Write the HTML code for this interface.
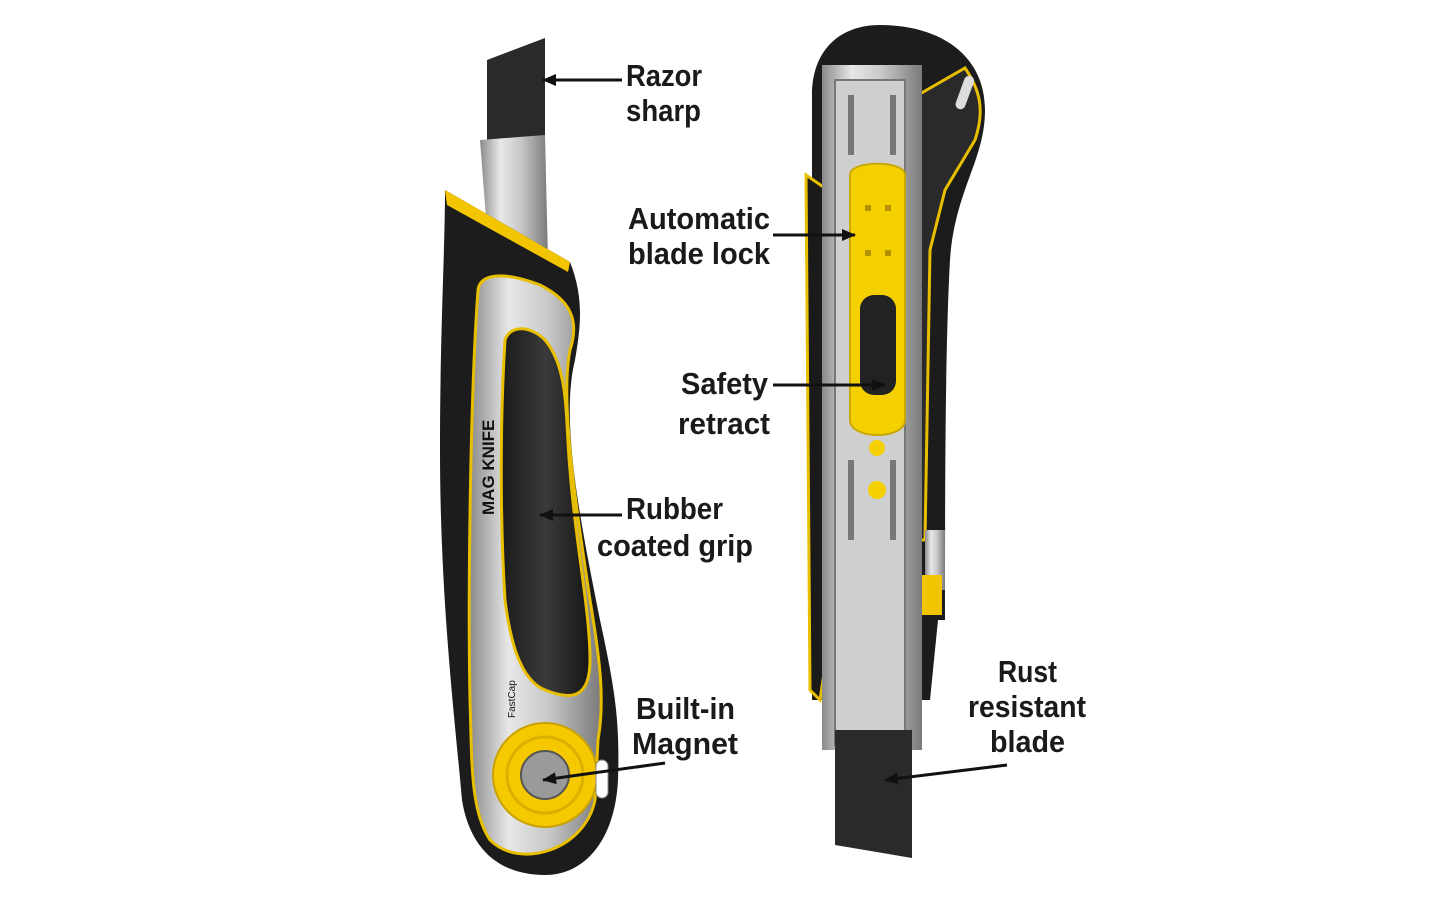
<!DOCTYPE html>
<html><head><meta charset="utf-8"><style>
html,body{margin:0;padding:0;background:#fff;}
svg{display:block}
text{font-family:"Liberation Sans",sans-serif;font-weight:bold;font-size:31px;fill:#1a1a1a}
</style></head><body>
<svg width="1445" height="903" viewBox="0 0 1445 903" xmlns="http://www.w3.org/2000/svg">
<defs>
<linearGradient id="silver" x1="0" x2="1" y1="0" y2="0">
<stop offset="0" stop-color="#8a8a8a"/><stop offset="0.3" stop-color="#e8e8e8"/><stop offset="0.6" stop-color="#c8c8c8"/><stop offset="1" stop-color="#7a7a7a"/>
</linearGradient>
<linearGradient id="blk" x1="0" x2="1"><stop offset="0" stop-color="#1a1a1a"/><stop offset="0.5" stop-color="#3a3a3a"/><stop offset="1" stop-color="#151515"/></linearGradient>
<marker id="ah" markerWidth="14" markerHeight="12" refX="13" refY="6" orient="auto" markerUnits="userSpaceOnUse"><path d="M0,0 L14,6 L0,12 Z" fill="#111"/></marker>
</defs>

<!-- LEFT KNIFE -->
<polygon points="487,60 545,38 545,140 487,140" fill="#2a2a2a"/>
<polygon points="480,140 545,135 548,260 490,270" fill="url(#silver)"/>
<path d="M445,190 L570,262 C585,300 580,330 575,360 C560,420 580,520 600,620 C615,690 620,720 618,780 C615,840 585,875 545,875 C500,875 470,850 462,800 C455,720 440,600 440,450 C440,330 445,250 445,190 Z" fill="#1c1c1c"/>
<path d="M445,190 L570,262 L568,272 L447,205 Z" fill="#f2c500"/>
<path d="M478,290 C480,275 500,270 540,285 C570,300 580,320 570,350 C560,400 575,500 590,600 C600,660 605,700 598,740 L595,800 C585,850 520,870 490,840 C470,810 472,760 470,700 C468,600 470,400 478,290 Z" fill="url(#silver)" stroke="#e8bf00" stroke-width="3"/>
<path d="M505,340 C510,325 530,325 545,340 C570,370 565,420 570,470 C575,540 590,610 590,660 C590,700 570,700 545,690 C520,680 510,640 505,600 C500,520 500,420 505,340 Z" fill="url(#blk)" stroke="#e8bf00" stroke-width="3"/>
<text x="0" y="0" transform="translate(494,515) rotate(-90)" style="font-size:17px;fill:#111">MAG KNIFE</text>
<text x="0" y="0" transform="translate(515,718) rotate(-90)" style="font-size:10px;fill:#111;font-weight:normal">FastCap</text>
<circle cx="545" cy="775" r="52" fill="#f5c800" stroke="#c9a200" stroke-width="2"/>
<circle cx="545" cy="775" r="38" fill="none" stroke="#d9b000" stroke-width="3"/>
<circle cx="545" cy="775" r="24" fill="#9a9a9a" stroke="#555" stroke-width="2"/>
<rect x="596" y="760" width="12" height="38" rx="6" fill="#fff" stroke="#888"/>

<!-- RIGHT KNIFE -->
<path d="M812,95 C812,50 840,25 880,25 C940,25 985,55 985,110 C985,160 955,190 950,260 C945,350 945,500 945,620 L938,620 L930,700 L812,700 Z" fill="#1c1c1c"/>
<path d="M918,95 L965,68 C980,90 985,110 975,140 L945,190 L930,250 L925,540 L918,540 Z" fill="#2a2a2a" stroke="#e8bf00" stroke-width="3"/>
<rect x="960" y="75" width="10" height="35" rx="5" fill="#ddd" transform="rotate(20 965 92)"/>
<path d="M806,175 L835,195 L835,600 L820,700 L810,690 Z" fill="#1a1a1a" stroke="#e8bf00" stroke-width="3"/>
<rect x="925" y="530" width="20" height="60" fill="url(#silver)"/>
<rect x="922" y="575" width="20" height="40" fill="#f2c500"/>
<rect x="822" y="65" width="100" height="685" fill="url(#silver)"/>
<path d="M835,80 L905,80 L905,745 L835,745 Z" fill="#cfcfcf" stroke="#777" stroke-width="2"/>
<g fill="#777">
<rect x="848" y="95" width="6" height="60"/><rect x="890" y="95" width="6" height="60"/>
<rect x="848" y="460" width="6" height="80"/><rect x="890" y="460" width="6" height="80"/>
</g>
<polygon points="835,730 912,730 912,858 835,845" fill="#2a2a2a"/>
<path d="M850,175 C850,160 905,160 905,175 L905,420 C905,440 850,440 850,420 Z" fill="#f5d000" stroke="#c9a800" stroke-width="2"/>
<rect x="860" y="295" width="36" height="100" rx="14" fill="#222"/>
<g fill="#b39400"><rect x="865" y="205" width="6" height="6"/><rect x="885" y="205" width="6" height="6"/><rect x="865" y="250" width="6" height="6"/><rect x="885" y="250" width="6" height="6"/></g>
<circle cx="877" cy="448" r="8" fill="#f5d000"/>
<circle cx="877" cy="490" r="9" fill="#f5d000"/>

<!-- LABELS -->
<text x="626" y="86" textLength="76" lengthAdjust="spacingAndGlyphs">Razor</text>
<text x="626" y="121" textLength="75" lengthAdjust="spacingAndGlyphs">sharp</text>
<line x1="622" y1="80" x2="543" y2="80" stroke="#111" stroke-width="3" marker-end="url(#ah)"/>

<text x="628" y="229" textLength="142" lengthAdjust="spacingAndGlyphs">Automatic</text>
<text x="628" y="264" textLength="142" lengthAdjust="spacingAndGlyphs">blade lock</text>
<line x1="773" y1="235" x2="855" y2="235" stroke="#111" stroke-width="3" marker-end="url(#ah)"/>

<text x="681" y="394" textLength="87" lengthAdjust="spacingAndGlyphs">Safety</text>
<text x="678" y="434" textLength="92" lengthAdjust="spacingAndGlyphs">retract</text>
<line x1="773" y1="385" x2="885" y2="385" stroke="#111" stroke-width="3" marker-end="url(#ah)"/>

<text x="626" y="519" textLength="97" lengthAdjust="spacingAndGlyphs">Rubber</text>
<text x="597" y="556" textLength="156" lengthAdjust="spacingAndGlyphs">coated grip</text>
<line x1="622" y1="515" x2="540" y2="515" stroke="#111" stroke-width="3" marker-end="url(#ah)"/>

<text x="636" y="719" textLength="99" lengthAdjust="spacingAndGlyphs">Built-in</text>
<text x="632" y="754" textLength="106" lengthAdjust="spacingAndGlyphs">Magnet</text>
<line x1="665" y1="763" x2="543" y2="780" stroke="#111" stroke-width="3" marker-end="url(#ah)"/>

<text x="998" y="682" textLength="59" lengthAdjust="spacingAndGlyphs">Rust</text>
<text x="968" y="717" textLength="118" lengthAdjust="spacingAndGlyphs">resistant</text>
<text x="990" y="752" textLength="75" lengthAdjust="spacingAndGlyphs">blade</text>
<line x1="1007" y1="765" x2="885" y2="780" stroke="#111" stroke-width="3" marker-end="url(#ah)"/>
</svg>
</body></html>
